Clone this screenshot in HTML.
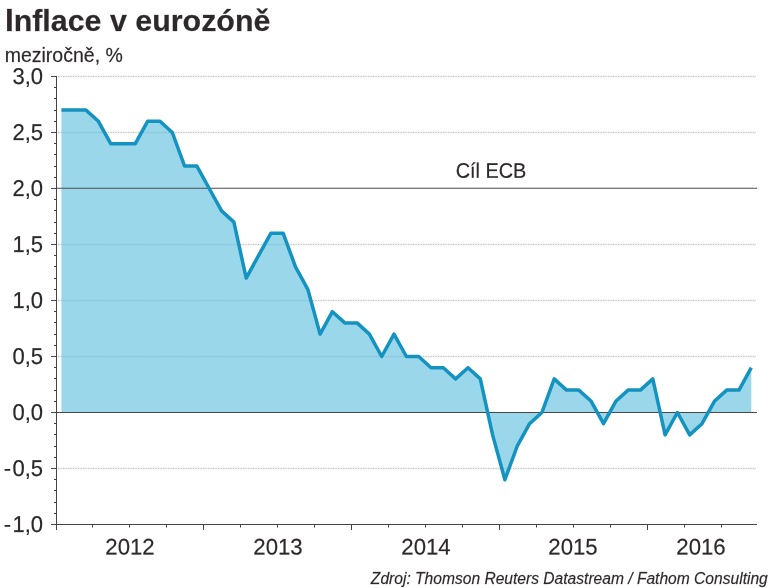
<!DOCTYPE html>
<html lang="cs"><head><meta charset="utf-8"><title>Inflace v eurozóně</title>
<style>
html,body{margin:0;padding:0;background:#fff;}
body{width:784px;height:588px;overflow:hidden;font-family:"Liberation Sans",sans-serif;}
svg{display:block;}
text{font-family:"Liberation Sans",sans-serif;fill:#2d292a;stroke:#2d292a;stroke-width:0.3px;stroke-opacity:0.55;}
</style></head><body>
<svg width="784" height="588" viewBox="0 0 784 588">
<rect width="784" height="588" fill="#ffffff"/>
<text transform="translate(4.9,30.6) rotate(0.02)" font-size="30.4" font-weight="bold" fill="#2a2526" stroke="none"><tspan font-size="31.6">I</tspan>nflace v eurozóně</text>
<text transform="translate(4.7,61.7) rotate(0.02)" font-size="19.5">meziročně, %</text>
<g>
<line x1="58" x2="756" y1="76.5" y2="76.5" stroke="#505050" stroke-opacity="0.05" stroke-width="3"/>
<line x1="58" x2="756" y1="76.5" y2="76.5" stroke="#505050" stroke-opacity="0.3" stroke-width="1" stroke-dasharray="1.25 1.25"/>
<line x1="58" x2="756" y1="132.5" y2="132.5" stroke="#505050" stroke-opacity="0.05" stroke-width="3"/>
<line x1="58" x2="756" y1="132.5" y2="132.5" stroke="#505050" stroke-opacity="0.3" stroke-width="1" stroke-dasharray="1.25 1.25"/>
<line x1="58" x2="756" y1="244.5" y2="244.5" stroke="#505050" stroke-opacity="0.05" stroke-width="3"/>
<line x1="58" x2="756" y1="244.5" y2="244.5" stroke="#505050" stroke-opacity="0.3" stroke-width="1" stroke-dasharray="1.25 1.25"/>
<line x1="58" x2="756" y1="300.5" y2="300.5" stroke="#505050" stroke-opacity="0.05" stroke-width="3"/>
<line x1="58" x2="756" y1="300.5" y2="300.5" stroke="#505050" stroke-opacity="0.3" stroke-width="1" stroke-dasharray="1.25 1.25"/>
<line x1="58" x2="756" y1="356.5" y2="356.5" stroke="#505050" stroke-opacity="0.05" stroke-width="3"/>
<line x1="58" x2="756" y1="356.5" y2="356.5" stroke="#505050" stroke-opacity="0.3" stroke-width="1" stroke-dasharray="1.25 1.25"/>
<line x1="58" x2="756" y1="468.5" y2="468.5" stroke="#505050" stroke-opacity="0.05" stroke-width="3"/>
<line x1="58" x2="756" y1="468.5" y2="468.5" stroke="#505050" stroke-opacity="0.3" stroke-width="1" stroke-dasharray="1.25 1.25"/>
</g>
<path d="M61.4,412.5 L61.4,110.1 L73.7,110.1 L86.0,110.1 L98.4,121.3 L110.7,143.7 L123.0,143.7 L135.3,143.7 L147.6,121.3 L160.0,121.3 L172.3,132.5 L184.6,166.1 L196.9,166.1 L209.2,188.5 L221.6,210.9 L233.9,222.1 L246.2,278.1 L258.5,255.7 L270.8,233.3 L283.2,233.3 L295.5,266.9 L307.8,289.3 L320.1,334.1 L332.4,311.7 L344.8,322.9 L357.1,322.9 L369.4,334.1 L381.7,356.5 L394.0,334.1 L406.4,356.5 L418.7,356.5 L431.0,367.7 L443.3,367.7 L455.6,378.9 L468.0,367.7 L480.3,378.9 L492.6,434.9 L504.9,479.7 L517.2,446.1 L529.6,423.7 L541.9,412.5 L554.2,378.9 L566.5,390.1 L578.8,390.1 L591.2,401.3 L603.5,423.7 L615.8,401.3 L628.1,390.1 L640.4,390.1 L652.8,378.9 L665.1,434.9 L677.4,412.5 L689.7,434.9 L702.0,423.7 L714.4,401.3 L726.7,390.1 L739.0,390.1 L751.3,367.7 L751.3,412.5 Z" fill="#65c1e0" fill-opacity="0.65"/>
<line x1="57" x2="757" y1="188.3" y2="188.3" stroke="#4c4c4c" stroke-width="1.1"/>
<line x1="57" x2="757" y1="412.5" y2="412.5" stroke="#484848" stroke-width="1"/>
<path d="M61.4,110.1 L73.7,110.1 L86.0,110.1 L98.4,121.3 L110.7,143.7 L123.0,143.7 L135.3,143.7 L147.6,121.3 L160.0,121.3 L172.3,132.5 L184.6,166.1 L196.9,166.1 L209.2,188.5 L221.6,210.9 L233.9,222.1 L246.2,278.1 L258.5,255.7 L270.8,233.3 L283.2,233.3 L295.5,266.9 L307.8,289.3 L320.1,334.1 L332.4,311.7 L344.8,322.9 L357.1,322.9 L369.4,334.1 L381.7,356.5 L394.0,334.1 L406.4,356.5 L418.7,356.5 L431.0,367.7 L443.3,367.7 L455.6,378.9 L468.0,367.7 L480.3,378.9 L492.6,434.9 L504.9,479.7 L517.2,446.1 L529.6,423.7 L541.9,412.5 L554.2,378.9 L566.5,390.1 L578.8,390.1 L591.2,401.3 L603.5,423.7 L615.8,401.3 L628.1,390.1 L640.4,390.1 L652.8,378.9 L665.1,434.9 L677.4,412.5 L689.7,434.9 L702.0,423.7 L714.4,401.3 L726.7,390.1 L739.0,390.1 L751.3,367.7" fill="none" stroke="#1593c0" stroke-width="3.5" stroke-linejoin="round" stroke-linecap="butt"/>
<line x1="56.5" x2="56.5" y1="76.0" y2="530.0" stroke="#444" stroke-width="1"/>
<line x1="51.0" x2="757" y1="524.5" y2="524.5" stroke="#444" stroke-width="1"/>
<line x1="51.0" x2="56.5" y1="76.5" y2="76.5" stroke="#444" stroke-width="1"/>
<text transform="translate(43,83.9) rotate(0.03) scale(1,1.04)" font-size="22" text-anchor="end">3,0</text>
<line x1="54.0" x2="56.5" y1="87.5" y2="87.5" stroke="#444" stroke-width="1"/>
<line x1="54.0" x2="56.5" y1="98.5" y2="98.5" stroke="#444" stroke-width="1"/>
<line x1="54.0" x2="56.5" y1="110.5" y2="110.5" stroke="#444" stroke-width="1"/>
<line x1="54.0" x2="56.5" y1="121.5" y2="121.5" stroke="#444" stroke-width="1"/>
<line x1="51.0" x2="56.5" y1="132.5" y2="132.5" stroke="#444" stroke-width="1"/>
<text transform="translate(43,139.9) rotate(0.03) scale(1,1.04)" font-size="22" text-anchor="end">2,5</text>
<line x1="54.0" x2="56.5" y1="143.5" y2="143.5" stroke="#444" stroke-width="1"/>
<line x1="54.0" x2="56.5" y1="154.5" y2="154.5" stroke="#444" stroke-width="1"/>
<line x1="54.0" x2="56.5" y1="166.5" y2="166.5" stroke="#444" stroke-width="1"/>
<line x1="54.0" x2="56.5" y1="177.5" y2="177.5" stroke="#444" stroke-width="1"/>
<line x1="51.0" x2="56.5" y1="188.5" y2="188.5" stroke="#444" stroke-width="1"/>
<text transform="translate(43,195.9) rotate(0.03) scale(1,1.04)" font-size="22" text-anchor="end">2,0</text>
<line x1="54.0" x2="56.5" y1="199.5" y2="199.5" stroke="#444" stroke-width="1"/>
<line x1="54.0" x2="56.5" y1="210.5" y2="210.5" stroke="#444" stroke-width="1"/>
<line x1="54.0" x2="56.5" y1="222.5" y2="222.5" stroke="#444" stroke-width="1"/>
<line x1="54.0" x2="56.5" y1="233.5" y2="233.5" stroke="#444" stroke-width="1"/>
<line x1="51.0" x2="56.5" y1="244.5" y2="244.5" stroke="#444" stroke-width="1"/>
<text transform="translate(43,251.9) rotate(0.03) scale(1,1.04)" font-size="22" text-anchor="end">1,5</text>
<line x1="54.0" x2="56.5" y1="255.5" y2="255.5" stroke="#444" stroke-width="1"/>
<line x1="54.0" x2="56.5" y1="266.5" y2="266.5" stroke="#444" stroke-width="1"/>
<line x1="54.0" x2="56.5" y1="278.5" y2="278.5" stroke="#444" stroke-width="1"/>
<line x1="54.0" x2="56.5" y1="289.5" y2="289.5" stroke="#444" stroke-width="1"/>
<line x1="51.0" x2="56.5" y1="300.5" y2="300.5" stroke="#444" stroke-width="1"/>
<text transform="translate(43,307.9) rotate(0.03) scale(1,1.04)" font-size="22" text-anchor="end">1,0</text>
<line x1="54.0" x2="56.5" y1="311.5" y2="311.5" stroke="#444" stroke-width="1"/>
<line x1="54.0" x2="56.5" y1="322.5" y2="322.5" stroke="#444" stroke-width="1"/>
<line x1="54.0" x2="56.5" y1="334.5" y2="334.5" stroke="#444" stroke-width="1"/>
<line x1="54.0" x2="56.5" y1="345.5" y2="345.5" stroke="#444" stroke-width="1"/>
<line x1="51.0" x2="56.5" y1="356.5" y2="356.5" stroke="#444" stroke-width="1"/>
<text transform="translate(43,363.9) rotate(0.03) scale(1,1.04)" font-size="22" text-anchor="end">0,5</text>
<line x1="54.0" x2="56.5" y1="367.5" y2="367.5" stroke="#444" stroke-width="1"/>
<line x1="54.0" x2="56.5" y1="378.5" y2="378.5" stroke="#444" stroke-width="1"/>
<line x1="54.0" x2="56.5" y1="390.5" y2="390.5" stroke="#444" stroke-width="1"/>
<line x1="54.0" x2="56.5" y1="401.5" y2="401.5" stroke="#444" stroke-width="1"/>
<line x1="51.0" x2="56.5" y1="412.5" y2="412.5" stroke="#444" stroke-width="1"/>
<text transform="translate(43,419.9) rotate(0.03) scale(1,1.04)" font-size="22" text-anchor="end">0,0</text>
<line x1="54.0" x2="56.5" y1="423.5" y2="423.5" stroke="#444" stroke-width="1"/>
<line x1="54.0" x2="56.5" y1="434.5" y2="434.5" stroke="#444" stroke-width="1"/>
<line x1="54.0" x2="56.5" y1="446.5" y2="446.5" stroke="#444" stroke-width="1"/>
<line x1="54.0" x2="56.5" y1="457.5" y2="457.5" stroke="#444" stroke-width="1"/>
<line x1="51.0" x2="56.5" y1="468.5" y2="468.5" stroke="#444" stroke-width="1"/>
<text transform="translate(43,475.9) rotate(0.03) scale(1,1.04)" font-size="22" text-anchor="end"><tspan letter-spacing="1.4">-</tspan>0,5</text>
<line x1="54.0" x2="56.5" y1="479.5" y2="479.5" stroke="#444" stroke-width="1"/>
<line x1="54.0" x2="56.5" y1="490.5" y2="490.5" stroke="#444" stroke-width="1"/>
<line x1="54.0" x2="56.5" y1="502.5" y2="502.5" stroke="#444" stroke-width="1"/>
<line x1="54.0" x2="56.5" y1="513.5" y2="513.5" stroke="#444" stroke-width="1"/>
<line x1="51.0" x2="56.5" y1="524.5" y2="524.5" stroke="#444" stroke-width="1"/>
<text transform="translate(43,531.9) rotate(0.03) scale(1,1.04)" font-size="22" text-anchor="end"><tspan letter-spacing="1.4">-</tspan>1,0</text>
<line x1="92.5" x2="92.5" y1="524.5" y2="527.5" stroke="#444" stroke-width="1"/>
<line x1="129.5" x2="129.5" y1="524.5" y2="527.5" stroke="#444" stroke-width="1"/>
<line x1="166.5" x2="166.5" y1="524.5" y2="527.5" stroke="#444" stroke-width="1"/>
<line x1="203.5" x2="203.5" y1="524.5" y2="530.0" stroke="#444" stroke-width="1"/>
<line x1="240.5" x2="240.5" y1="524.5" y2="527.5" stroke="#444" stroke-width="1"/>
<line x1="277.5" x2="277.5" y1="524.5" y2="527.5" stroke="#444" stroke-width="1"/>
<line x1="314.5" x2="314.5" y1="524.5" y2="527.5" stroke="#444" stroke-width="1"/>
<line x1="351.5" x2="351.5" y1="524.5" y2="530.0" stroke="#444" stroke-width="1"/>
<line x1="388.5" x2="388.5" y1="524.5" y2="527.5" stroke="#444" stroke-width="1"/>
<line x1="425.5" x2="425.5" y1="524.5" y2="527.5" stroke="#444" stroke-width="1"/>
<line x1="462.5" x2="462.5" y1="524.5" y2="527.5" stroke="#444" stroke-width="1"/>
<line x1="499.5" x2="499.5" y1="524.5" y2="530.0" stroke="#444" stroke-width="1"/>
<line x1="536.5" x2="536.5" y1="524.5" y2="527.5" stroke="#444" stroke-width="1"/>
<line x1="573.5" x2="573.5" y1="524.5" y2="527.5" stroke="#444" stroke-width="1"/>
<line x1="610.5" x2="610.5" y1="524.5" y2="527.5" stroke="#444" stroke-width="1"/>
<line x1="647.5" x2="647.5" y1="524.5" y2="530.0" stroke="#444" stroke-width="1"/>
<line x1="684.5" x2="684.5" y1="524.5" y2="527.5" stroke="#444" stroke-width="1"/>
<line x1="721.5" x2="721.5" y1="524.5" y2="527.5" stroke="#444" stroke-width="1"/>
<text transform="translate(130,554.6) rotate(0.03) scale(1,1.015)" font-size="22.2" text-anchor="middle">2012</text>
<text transform="translate(278,554.6) rotate(0.03) scale(1,1.015)" font-size="22.2" text-anchor="middle">2013</text>
<text transform="translate(426,554.6) rotate(0.03) scale(1,1.015)" font-size="22.2" text-anchor="middle">2014</text>
<text transform="translate(573,554.6) rotate(0.03) scale(1,1.015)" font-size="22.2" text-anchor="middle">2015</text>
<text transform="translate(701,554.6) rotate(0.03) scale(1,1.015)" font-size="22.2" text-anchor="middle">2016</text>
<text transform="translate(491,177.8) rotate(0.03) scale(0.98,1.035)" font-size="20.3" text-anchor="middle">Cíl ECB</text>
<text transform="translate(767.8,584.2) rotate(0.02)" fill="#383b3e" font-size="15.6" font-style="italic" text-anchor="end">Zdroj: Thomson Reuters Datastream / Fathom Consulting</text>
</svg></body></html>
